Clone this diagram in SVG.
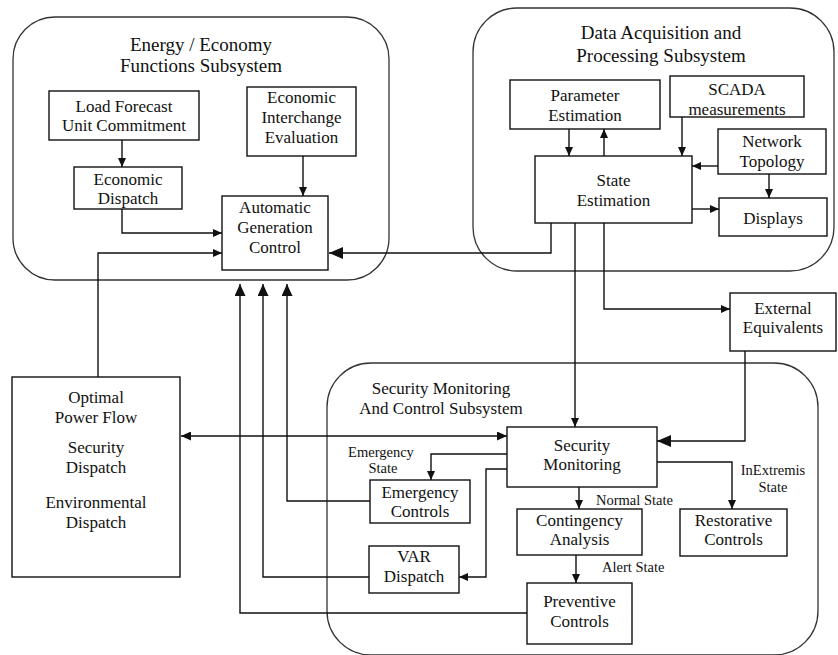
<svg xmlns="http://www.w3.org/2000/svg" width="838" height="655" viewBox="0 0 838 655">
<style>
.cont{fill:none;stroke:#333;stroke-width:1.3}
.box{fill:#fff;stroke:#111;stroke-width:1.4}
.t{font-family:"Liberation Serif","Times New Roman",serif;font-size:17px;fill:#111;text-anchor:middle}
.title{font-size:19px}
.lbl{font-family:"Liberation Serif","Times New Roman",serif;font-size:14.5px;fill:#111}
.c{fill:none;stroke:#111;stroke-width:1.4}
.s{marker-end:url(#as)}
.m{marker-end:url(#am)}
.l{marker-end:url(#al)}
</style>
<defs>
<marker id="as" markerUnits="userSpaceOnUse" markerWidth="9" markerHeight="8" refX="9" refY="4" orient="auto"><path d="M0,0 L9,4 L0,8 z" fill="#111"/></marker>
<marker id="am" markerUnits="userSpaceOnUse" markerWidth="12" markerHeight="11" refX="12" refY="5.5" orient="auto"><path d="M0,0 L12,5.5 L0,11 z" fill="#111"/></marker>
<marker id="al" markerUnits="userSpaceOnUse" markerWidth="14" markerHeight="12" refX="14" refY="6" orient="auto"><path d="M0,0 L14,6 L0,12 z" fill="#111"/></marker>
<marker id="ad" markerUnits="userSpaceOnUse" markerWidth="10" markerHeight="9" refX="10" refY="4.5" orient="auto-start-reverse"><path d="M0,0 L10,4.5 L0,9 z" fill="#111"/></marker>
</defs>
<rect width="838" height="655" fill="#fff"/>

<g id="energy-subsystem">
<rect class="cont" x="13" y="17" width="376" height="263" rx="42"/>
<text class="t title" x="201" y="51">Energy / Economy</text>
<text class="t title" x="201" y="72">Functions Subsystem</text>
</g>
<g id="data-subsystem">
<rect class="cont" x="473" y="8" width="361" height="263" rx="44"/>
<text class="t title" x="661" y="39">Data Acquisition and</text>
<text class="t title" x="661" y="62">Processing Subsystem</text>
</g>
<g id="security-subsystem">
<rect class="cont" x="327" y="363" width="491" height="292" rx="44"/>
<text class="t" x="441" y="394">Security Monitoring</text>
<text class="t" x="441" y="414">And Control Subsystem</text>
</g>

<g id="connectors">
<path class="c s" d="M122,140 V167"/>
<path class="c s" d="M303,156 V196"/>
<path class="c s" d="M122,209 V233 H222"/>
<path class="c s" d="M98,377 V253 H222"/>
<path class="c l" d="M551,223 V253 H329"/>
<path class="c s" d="M569,129 V156"/>
<path class="c s" d="M604,156 V129"/>
<path class="c s" d="M682,117 V156"/>
<path class="c s" d="M718,166 H692"/>
<path class="c s" d="M769,174 V198"/>
<path class="c s" d="M692,209 H719"/>
<path class="c s" d="M575,223 V427"/>
<path class="c s" d="M604,223 V309 H730"/>
<path class="c l" d="M745,351 V441 H657"/>
<path class="c" d="M181,436 H507" marker-start="url(#ad)" marker-end="url(#ad)"/>
<path class="c m" d="M370,501 H287 V284"/>
<path class="c m" d="M369,577 H263 V284"/>
<path class="c m" d="M527,613 H240 V284"/>
<path class="c s" d="M507,454 H431 V480"/>
<path class="c s" d="M507,469 H486 V577 H459"/>
<path class="c s" d="M579,487 V509"/>
<path class="c s" d="M657,462 H732 V509"/>
<path class="c s" d="M576,555 V583"/>
<text class="lbl" x="381" y="457" text-anchor="middle">Emergency</text>
<text class="lbl" x="383" y="473" text-anchor="middle">State</text>
<text class="lbl" x="596" y="505">Normal State</text>
<text class="lbl" x="773" y="475" text-anchor="middle">InExtremis</text>
<text class="lbl" x="773" y="492" text-anchor="middle">State</text>
<text class="lbl" x="602" y="572">Alert State</text>
</g>

<g id="load-forecast"><rect class="box" x="49" y="91" width="150" height="49"/>
<text class="t" x="124" y="112">Load Forecast</text><text class="t" x="124" y="131">Unit Commitment</text></g>
<g id="econ-interchange"><rect class="box" x="247" y="87" width="109" height="69"/>
<text class="t" x="301.5" y="103">Economic</text><text class="t" x="301.5" y="123">Interchange</text><text class="t" x="301.5" y="143">Evaluation</text></g>
<g id="econ-dispatch"><rect class="box" x="74" y="167" width="108" height="42"/>
<text class="t" x="128" y="185">Economic</text><text class="t" x="128" y="204">Dispatch</text></g>
<g id="agc"><rect class="box" x="222" y="196" width="106" height="74"/>
<text class="t" x="275" y="213">Automatic</text><text class="t" x="275" y="233">Generation</text><text class="t" x="275" y="253">Control</text></g>
<g id="param-est"><rect class="box" x="510" y="80" width="150" height="49"/>
<text class="t" x="585" y="101">Parameter</text><text class="t" x="585" y="121">Estimation</text></g>
<g id="scada"><rect class="box" x="670" y="76" width="134" height="41"/>
<text class="t" x="737" y="95">SCADA</text><text class="t" x="737" y="115">measurements</text></g>
<g id="net-topology"><rect class="box" x="718" y="129" width="108" height="45"/>
<text class="t" x="772" y="147">Network</text><text class="t" x="772" y="167">Topology</text></g>
<g id="displays"><rect class="box" x="719" y="198" width="108" height="38"/>
<text class="t" x="773" y="224">Displays</text></g>
<g id="state-est"><rect class="box" x="535" y="156" width="157" height="67"/>
<text class="t" x="613.5" y="186">State</text><text class="t" x="613.5" y="206">Estimation</text></g>
<g id="ext-equiv"><rect class="box" x="730" y="293" width="106" height="58"/>
<text class="t" x="783" y="314">External</text><text class="t" x="783" y="333">Equivalents</text></g>
<g id="opf"><rect class="box" x="12" y="377" width="168" height="200"/>
<text class="t" x="96" y="403">Optimal</text><text class="t" x="96" y="423">Power Flow</text>
<text class="t" x="96" y="453">Security</text><text class="t" x="96" y="473">Dispatch</text>
<text class="t" x="96" y="508">Environmental</text><text class="t" x="96" y="528">Dispatch</text></g>
<g id="sec-mon"><rect class="box" x="507" y="427" width="150" height="60"/>
<text class="t" x="582" y="451">Security</text><text class="t" x="582" y="470">Monitoring</text></g>
<g id="emergency"><rect class="box" x="370" y="480" width="100" height="43"/>
<text class="t" x="420" y="498">Emergency</text><text class="t" x="420" y="517">Controls</text></g>
<g id="var"><rect class="box" x="369" y="546" width="90" height="47"/>
<text class="t" x="414" y="562">VAR</text><text class="t" x="414" y="582">Dispatch</text></g>
<g id="contingency"><rect class="box" x="517" y="509" width="125" height="46"/>
<text class="t" x="579.5" y="526">Contingency</text><text class="t" x="579.5" y="545">Analysis</text></g>
<g id="restorative"><rect class="box" x="680" y="509" width="107" height="47"/>
<text class="t" x="733.5" y="526">Restorative</text><text class="t" x="733.5" y="545">Controls</text></g>
<g id="preventive"><rect class="box" x="527" y="583" width="105" height="61"/>
<text class="t" x="579.5" y="607">Preventive</text><text class="t" x="579.5" y="627">Controls</text></g>
</svg>
